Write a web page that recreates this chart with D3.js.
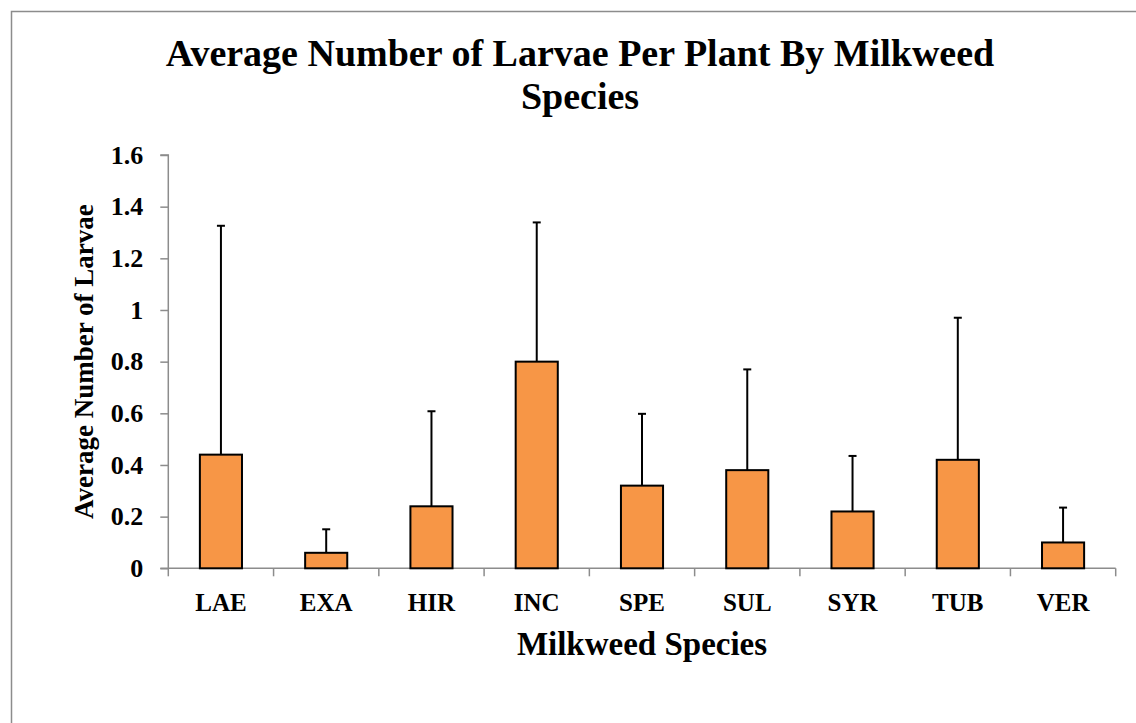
<!DOCTYPE html>
<html>
<head>
<meta charset="utf-8">
<script src="https://cdn.jsdelivr.net/npm/d3@7"></script>
<style>
  html, body { margin: 0; padding: 0; background: #fff; }
  svg { display: block; }
</style>
</head>
<body>
<div id="chart"></div>
<script>
// ── Data ──────────────────────────────────────
const species   = ["LAE", "EXA", "HIR", "INC", "SPE", "SUL", "SYR", "TUB", "VER"];
const avgLarvae = [0.44, 0.06, 0.24, 0.80, 0.32, 0.38, 0.22, 0.42, 0.10];
const errUpper  = [0.886, 0.091, 0.368, 0.539, 0.278, 0.39, 0.215, 0.55, 0.135];
const yTicks    = [0, 0.2, 0.4, 0.6, 0.8, 1, 1.2, 1.4, 1.6];

const rows = species.map((s, i) => ({ s, v: avgLarvae[i], e: errUpper[i] }));

// ── Layout ────────────────────────────────────
const W = 1136, H = 723;
const plot = { left: 168.3, right: 1115.7, top: 155, bottom: 568.3 };
const FONT = "'Liberation Serif', 'Times New Roman', serif";
const AXIS = "#8c8c8c";

const svg = d3.select("#chart").append("svg")
  .attr("width", W).attr("height", H);

svg.append("rect").attr("width", W).attr("height", H).attr("fill", "#fff");

// outer frame (only top and left edges fall inside the picture)
svg.append("rect")
  .attr("x", 11.5).attr("y", 11.5)
  .attr("width", W + 20).attr("height", H + 20)
  .attr("fill", "none")
  .attr("stroke", AXIS)
  .attr("stroke-width", 1.5);

// ── Scales ────────────────────────────────────
const x = d3.scaleBand()
  .domain(species)
  .range([plot.left, plot.right])
  .paddingInner(0.6)
  .paddingOuter(0.3);

const y = d3.scaleLinear()
  .domain([0, 1.6])
  .range([plot.bottom, plot.top]);

// ── Title ─────────────────────────────────────
const title = svg.append("text")
  .attr("text-anchor", "middle")
  .attr("font-family", FONT)
  .attr("font-weight", "bold")
  .attr("font-size", "38px")
  .attr("fill", "#000");
title.append("tspan").attr("x", 580).attr("y", 66)
  .text("Average Number of Larvae Per Plant By Milkweed");
title.append("tspan").attr("x", 580).attr("y", 109)
  .text("Species");

// ── Y axis ────────────────────────────────────
svg.append("g")
  .attr("transform", `translate(${plot.left},0)`)
  .call(d3.axisLeft(y).tickValues(yTicks).tickSize(8).tickPadding(17)
    .tickFormat(d => d3.format("")(+d.toFixed(1))))
  .call(g => g.select(".domain").attr("stroke", AXIS).attr("stroke-width", 1.5)
    .attr("d", `M-8,${plot.top}H0V${plot.bottom}`))
  .call(g => g.selectAll(".tick line").attr("stroke", AXIS).attr("stroke-width", 1.5))
  .call(g => g.selectAll(".tick text")
    .attr("fill", "#000")
    .attr("font-family", FONT)
    .attr("font-weight", "bold")
    .attr("font-size", "26px"));

// ── X axis (ticks between categories) ─────────
const step = x.step();
const boundaries = d3.range(species.length + 1).map(i => plot.left + i * step);

const xAxis = svg.append("g");
xAxis.append("line")
  .attr("x1", plot.left - 8).attr("x2", plot.right)
  .attr("y1", plot.bottom).attr("y2", plot.bottom)
  .attr("stroke", AXIS).attr("stroke-width", 1.5);
xAxis.selectAll(".xtick")
  .data(boundaries)
  .join("line")
  .attr("x1", d => d).attr("x2", d => d)
  .attr("y1", plot.bottom).attr("y2", plot.bottom + 8)
  .attr("stroke", AXIS).attr("stroke-width", 1.5);

xAxis.selectAll(".xlabel")
  .data(species)
  .join("text")
  .attr("x", d => x(d) + x.bandwidth() / 2)
  .attr("y", 611)
  .attr("text-anchor", "middle")
  .attr("font-family", FONT)
  .attr("font-weight", "bold")
  .attr("font-size", "25px")
  .text(d => d);

// ── Axis titles ───────────────────────────────
svg.append("text")
  .attr("x", (plot.left + plot.right) / 2)
  .attr("y", 655)
  .attr("text-anchor", "middle")
  .attr("font-family", FONT)
  .attr("font-weight", "bold")
  .attr("font-size", "33px")
  .text("Milkweed Species");

svg.append("text")
  .attr("transform", `translate(93,${(plot.top + plot.bottom) / 2}) rotate(-90)`)
  .attr("text-anchor", "middle")
  .attr("font-family", FONT)
  .attr("font-weight", "bold")
  .attr("font-size", "27px")
  .text("Average Number of Larvae");

// ── Error bars (upper only) ───────────────────
const eb = svg.append("g");
eb.selectAll(".err")
  .data(rows)
  .join("line")
  .attr("x1", d => x(d.s) + x.bandwidth() / 2)
  .attr("x2", d => x(d.s) + x.bandwidth() / 2)
  .attr("y1", d => y(d.v))
  .attr("y2", d => y(d.v + d.e))
  .attr("stroke", "#000").attr("stroke-width", 2);
eb.selectAll(".cap")
  .data(rows)
  .join("line")
  .attr("x1", d => x(d.s) + x.bandwidth() / 2 - 4)
  .attr("x2", d => x(d.s) + x.bandwidth() / 2 + 4)
  .attr("y1", d => y(d.v + d.e))
  .attr("y2", d => y(d.v + d.e))
  .attr("stroke", "#000").attr("stroke-width", 2);

// ── Bars ──────────────────────────────────────
svg.append("g").selectAll("rect")
  .data(rows)
  .join("rect")
  .attr("x", d => x(d.s))
  .attr("y", d => y(d.v))
  .attr("width", x.bandwidth())
  .attr("height", d => y(0) - y(d.v))
  .attr("fill", "#f79646")
  .attr("stroke", "#000")
  .attr("stroke-width", 2);
</script>
</body>
</html>
